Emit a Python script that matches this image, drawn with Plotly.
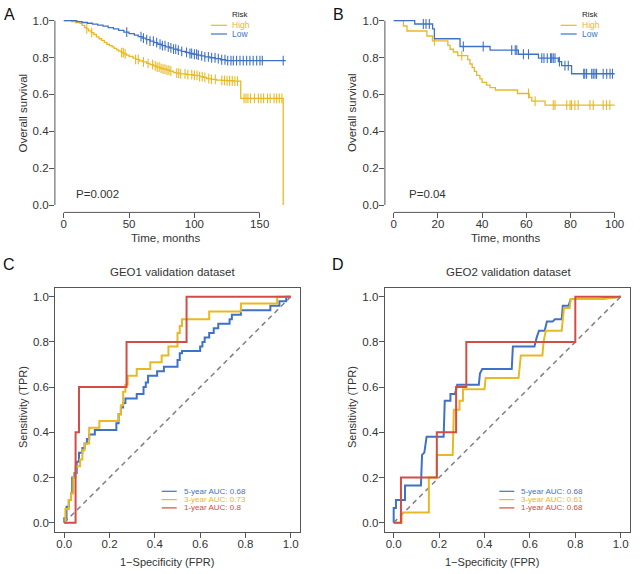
import numpy as np
import plotly.graph_objects as go

W, H = 643, 574
FONT = "Liberation Sans, Arial, sans-serif"
YELLOW = "#E8B923"
BLUE = "#3F72C6"
RED = "#D14D45"
AXIS = "#555555"
TXT = "#333333"

# ---- panel A: Kaplan-Meier, training cohort ----
a_high_t = [6, 9, 12.5, 14, 16, 17.5, 19, 21, 23, 25, 27, 29, 31, 33, 35, 37, 38.5, 40.5, 42, 44,
            46, 48, 50, 53, 55, 58, 60.5, 63.5, 66, 68.6, 71, 73.7, 76, 78.8, 81, 84, 86, 89, 94, 99,
            104, 107, 109.4, 113, 117, 121, 125, 130, 135.5, 168]
a_high_s = [0.995, 0.99, 0.985, 0.975, 0.962, 0.955, 0.945, 0.935, 0.925, 0.912, 0.902, 0.893, 0.882,
            0.872, 0.865, 0.858, 0.85, 0.842, 0.835, 0.827, 0.82, 0.813, 0.806, 0.797, 0.79, 0.782,
            0.776, 0.768, 0.762, 0.755, 0.748, 0.741, 0.737, 0.732, 0.726, 0.719, 0.715, 0.711, 0.707,
            0.703, 0.697, 0.692, 0.686, 0.682, 0.678, 0.676, 0.674, 0.672, 0.579, 0.0]
a_high_cens = [17.6, 21.4, 44.3, 45.6, 47, 55, 57, 61, 64.5, 68, 70, 71.5, 73, 74.5, 76, 77.5, 79,
               80.5, 82, 86.5, 88, 89.5, 92.8, 95, 98, 100, 102, 104, 106, 108, 111, 113, 116, 121,
               123, 125, 127, 129, 131, 133, 138, 139.5, 141, 143, 146, 149, 151, 153, 156, 158, 161,
               163, 165, 167]
a_low_t = [10, 14, 18, 22, 26, 30, 34, 38, 42, 46, 50, 54, 57, 60, 63, 66, 69, 72, 75, 78, 81, 84,
           87, 90, 93, 96, 99, 102, 105, 108, 112, 116, 120, 124]
a_low_s = [0.995, 0.99, 0.986, 0.981, 0.976, 0.97, 0.962, 0.955, 0.947, 0.938, 0.93, 0.922, 0.913,
           0.905, 0.897, 0.889, 0.881, 0.872, 0.865, 0.858, 0.852, 0.846, 0.84, 0.834, 0.828, 0.822,
           0.818, 0.813, 0.809, 0.804, 0.799, 0.794, 0.788, 0.783]
a_low_cens = [48.2, 59.1, 61, 63.5, 66, 68.6, 71.1, 73.7, 75.5, 77.5, 80, 82, 84, 85.7, 87.7, 90.3,
              94, 96.6, 97.9, 100, 101.7, 103, 105.6, 108, 110.7, 113.2, 115.8, 118.3, 120.9, 123.4,
              125.5, 128, 129.8, 132.3, 134.9, 137.4, 140, 142.5, 145, 147.7, 150.2, 152, 168]
a_high_end, a_low_end = 168, 170

# ---- panel B: Kaplan-Meier, validation cohort ----
b_high_t = [4.4, 6.0, 15.0, 17.5, 24.5, 25.5, 27.0, 29.0, 33.5, 34.5, 35.5, 36.5, 37.5, 39.0, 40.0,
            42.0, 43.6, 46.0, 56.0, 61.3, 62.5, 68.5]
b_high_s = [0.971, 0.944, 0.917, 0.890, 0.866, 0.845, 0.830, 0.810, 0.789, 0.765, 0.745, 0.725, 0.703,
            0.684, 0.665, 0.650, 0.637, 0.624, 0.605, 0.584, 0.564, 0.542]
b_high_cens = [18.4, 30.8, 61, 64, 72.2, 73, 78.3, 79.8, 80.5, 82, 83.5, 88.8, 90.3, 94.8, 96.3, 97.8]
b_low_t = [9.5, 17.6, 18.4, 30.0, 43.6, 56.4, 65.5, 74.5, 76.0, 80.5]
b_low_s = [0.982, 0.955, 0.902, 0.860, 0.840, 0.818, 0.797, 0.778, 0.756, 0.712]
b_low_cens = [13.4, 14.6, 16.1, 31.5, 40.5, 53.4, 55, 55.7, 58.7, 61, 67, 68, 69.5, 71, 71.5, 72.2,
              73, 75, 77.5, 79, 86, 86.5, 87.3, 89.6, 90.3, 91.1, 91.8, 94.8, 96.4, 97.9, 99]
b_end = 100

# ---- panel C: ROC GEO1 ----
c5_fpr = [0, 0, 0.01, 0.01, 0.02, 0.02, 0.03, 0.03, 0.035, 0.035, 0.045, 0.045, 0.055, 0.055, 0.065,
          0.065, 0.08, 0.08, 0.09, 0.09, 0.1, 0.1, 0.11, 0.11, 0.135, 0.135, 0.23, 0.23, 0.24, 0.24,
          0.25, 0.25, 0.26, 0.26, 0.27, 0.27, 0.28, 0.28, 0.32, 0.32, 0.35, 0.35, 0.36, 0.36, 0.37,
          0.37, 0.38, 0.38, 0.41, 0.41, 0.44, 0.44, 0.5, 0.5, 0.51, 0.51, 0.52, 0.52, 0.54, 0.54, 0.6,
          0.6, 0.61, 0.61, 0.62, 0.62, 0.64, 0.64, 0.66, 0.66, 0.68, 0.68, 0.7, 0.7, 0.73, 0.73, 0.74,
          0.74, 0.75, 0.75, 0.78, 0.78, 0.91, 0.91, 0.95, 0.95, 0.98, 0.98, 1]
c5_tpr = [0, 0.02, 0.02, 0.07, 0.07, 0.1, 0.1, 0.13, 0.13, 0.2, 0.2, 0.22, 0.22, 0.27, 0.27, 0.31,
          0.31, 0.33, 0.33, 0.35, 0.35, 0.37, 0.37, 0.39, 0.39, 0.41, 0.41, 0.44, 0.44, 0.48, 0.48,
          0.51, 0.51, 0.53, 0.53, 0.55, 0.55, 0.55, 0.55, 0.57, 0.57, 0.6, 0.6, 0.62, 0.62, 0.65, 0.65,
          0.65, 0.65, 0.67, 0.67, 0.69, 0.69, 0.72, 0.72, 0.75, 0.75, 0.76, 0.76, 0.76, 0.76, 0.78,
          0.78, 0.8, 0.8, 0.82, 0.82, 0.84, 0.84, 0.86, 0.86, 0.88, 0.88, 0.88, 0.88, 0.9, 0.9, 0.92,
          0.92, 0.92, 0.92, 0.94, 0.94, 0.96, 0.96, 0.98, 0.98, 1, 1]
c3_fpr = [0, 0.005, 0.005, 0.02, 0.02, 0.03, 0.03, 0.04, 0.04, 0.05, 0.05, 0.07, 0.07, 0.08, 0.08,
          0.09, 0.09, 0.11, 0.11, 0.155, 0.155, 0.24, 0.24, 0.25, 0.25, 0.26, 0.26, 0.27, 0.27, 0.28,
          0.28, 0.32, 0.32, 0.38, 0.38, 0.43, 0.43, 0.46, 0.46, 0.5, 0.5, 0.51, 0.51, 0.52, 0.52, 0.64,
          0.64, 0.78, 0.78, 0.94, 0.94, 1]
c3_tpr = [0, 0, 0.06, 0.06, 0.1, 0.1, 0.13, 0.13, 0.2, 0.2, 0.25, 0.25, 0.28, 0.28, 0.32, 0.32, 0.35,
          0.35, 0.42, 0.42, 0.45, 0.45, 0.48, 0.48, 0.52, 0.52, 0.58, 0.58, 0.61, 0.61, 0.65, 0.65,
          0.68, 0.68, 0.71, 0.71, 0.74, 0.74, 0.78, 0.78, 0.84, 0.84, 0.87, 0.87, 0.9, 0.9, 0.935,
          0.935, 0.97, 0.97, 1, 1]
c1_fpr = [0, 0.05, 0.05, 0.065, 0.065, 0.275, 0.275, 0.54, 0.54, 1]
c1_tpr = [0, 0, 0.4, 0.4, 0.6, 0.6, 0.8, 0.8, 1, 1]

# ---- panel D: ROC GEO2 ----
d5_fpr = [0, 0, 0.01, 0.01, 0.05, 0.05, 0.12, 0.125, 0.135, 0.145, 0.22, 0.225, 0.25, 0.25, 0.27,
          0.275, 0.28, 0.375, 0.38, 0.39, 0.52, 0.525, 0.62, 0.63, 0.64, 0.665, 0.675, 0.7, 0.71, 0.74,
          0.745, 0.77, 0.78, 0.9, 1]
d5_tpr = [0, 0.065, 0.065, 0.1, 0.1, 0.165, 0.165, 0.3, 0.31, 0.38, 0.38, 0.54, 0.54, 0.57, 0.57,
          0.6, 0.61, 0.61, 0.66, 0.68, 0.68, 0.78, 0.78, 0.82, 0.85, 0.85, 0.89, 0.89, 0.9, 0.9, 0.96,
          0.96, 0.99, 0.99, 1]
d3_fpr = [0, 0.035, 0.035, 0.155, 0.155, 0.19, 0.19, 0.26, 0.265, 0.29, 0.29, 0.305, 0.305, 0.4,
          0.405, 0.55, 0.56, 0.655, 0.66, 0.67, 0.74, 0.75, 0.775, 0.78, 0.92, 1]
d3_tpr = [0, 0, 0.045, 0.045, 0.2, 0.2, 0.3, 0.3, 0.5, 0.5, 0.54, 0.54, 0.59, 0.59, 0.64, 0.64, 0.74,
          0.74, 0.8, 0.85, 0.85, 0.95, 0.95, 0.99, 0.99, 1]
d1_fpr = [0, 0.032, 0.032, 0.19, 0.19, 0.275, 0.275, 0.32, 0.32, 0.8, 0.8, 1]
d1_tpr = [0, 0, 0.2, 0.2, 0.4, 0.4, 0.6, 0.6, 0.8, 0.8, 1, 1]

labels_c = ["5-year AUC: 0.68", "3-year AUC: 0.73", "1-year AUC: 0.8"]
labels_d = ["5-year AUC: 0.68", "3-year AUC: 0.61", "1-year AUC: 0.68"]


def px(x, y):
    return x / W, 1 - y / H


def surv_at(times, surv, t):
    idx = np.searchsorted(np.array(times), np.array(t), side="right")
    return np.concatenate([[1.0], surv])[idx]


fig = go.Figure()


def km(ax, times, surv, end, cens, color):
    xs = [0] + list(times) + ([end] if end > times[-1] else [])
    ys = [1] + list(surv) + ([surv[-1]] if end > times[-1] else [])
    fig.add_trace(go.Scatter(x=xs, y=ys, mode="lines", line=dict(color=color, width=1.3, shape="hv"),
                             xaxis="x" + ax, yaxis="y" + ax, hoverinfo="skip"))
    fig.add_trace(go.Scatter(x=cens, y=surv_at(times, surv, cens), mode="markers",
                             marker=dict(symbol="line-ns", size=7, line=dict(color=color, width=1.1)),
                             xaxis="x" + ax, yaxis="y" + ax, hoverinfo="skip"))


def roc(ax, fpr, tpr, color):
    fig.add_trace(go.Scatter(x=fpr, y=tpr, mode="lines", line=dict(color=color, width=2),
                             xaxis="x" + ax, yaxis="y" + ax, hoverinfo="skip"))


km("", a_high_t, a_high_s, a_high_end, a_high_cens, YELLOW)
km("", a_low_t, a_low_s, a_low_end, a_low_cens, BLUE)
km("2", b_high_t, b_high_s, b_end, b_high_cens, YELLOW)
km("2", b_low_t, b_low_s, b_end, b_low_cens, BLUE)

for ax, sets in [("3", [(c5_fpr, c5_tpr, BLUE), (c3_fpr, c3_tpr, YELLOW), (c1_fpr, c1_tpr, RED)]),
                 ("4", [(d5_fpr, d5_tpr, BLUE), (d3_fpr, d3_tpr, YELLOW), (d1_fpr, d1_tpr, RED)])]:
    fig.add_trace(go.Scatter(x=[0, 1], y=[0, 1], mode="lines",
                             line=dict(color="#7f7f7f", width=1.5, dash="5px,4px"),
                             xaxis="x" + ax, yaxis="y" + ax, hoverinfo="skip"))
    for f, t, c in sets:
        roc(ax, f, t, c)

tickfont = dict(family=FONT, size=11.5, color=TXT)


def axis(dom, rng, tickvals, fmt, box, standoff):
    return dict(domain=dom, range=rng, tickvals=tickvals, tickformat=fmt, ticks="outside", ticklen=5,
                tickwidth=1, tickcolor=AXIS, tickfont=tickfont, showgrid=False, zeroline=False,
                showline=box, mirror=box, linecolor=AXIS, linewidth=1, automargin=False,
                fixedrange=True, ticklabelstandoff=standoff)


def xdom(l, r):
    return [l / W, r / W]


def ydom(top, bottom):
    return [1 - bottom / H, 1 - top / H]


YT = [0, 0.2, 0.4, 0.6, 0.8, 1.0]
fig.update_layout(
    xaxis=axis(xdom(54.9, 294.7), [-6.8, 176.8], [0, 50, 100, 150], "d", False, -4),
    yaxis=axis(ydom(13.3, 212.4), [-0.04, 1.04], YT, ".1f", False, -2),
    xaxis2=axis(xdom(384.9, 623.5), [-4, 104], [0, 20, 40, 60, 80, 100], "d", False, -4),
    yaxis2=axis(ydom(13.3, 212.4), [-0.04, 1.04], YT, ".1f", False, -2),
    xaxis3=axis(xdom(55.2, 299.8), [-0.04, 1.04], YT, ".1f", True, -4),
    yaxis3=axis(ydom(287.7, 531.7), [-0.04, 1.04], YT, ".1f", True, -2),
    xaxis4=axis(xdom(384.6, 629.8), [-0.04, 1.04], YT, ".1f", True, -4),
    yaxis4=axis(ydom(287.7, 531.7), [-0.04, 1.04], YT, ".1f", True, -2),
)
for k in ["yaxis2", "yaxis3", "yaxis4"]:
    fig.layout[k].anchor = "x" + k[-1]
for k in ["xaxis2", "xaxis3", "xaxis4"]:
    fig.layout[k].anchor = "y" + k[-1]

# KM axis lines span only the tick range, as in base R
shapes = []
for ax, xmax in [("", 150), ("2", 100)]:
    shapes.append(dict(type="line", xref="x" + ax, yref="y" + ax + " domain", x0=0, x1=xmax, y0=0, y1=0,
                       line=dict(color=AXIS, width=1)))
    shapes.append(dict(type="line", xref="x" + ax + " domain", yref="y" + ax, x0=0, x1=0, y0=0, y1=1,
                       line=dict(color=AXIS, width=1)))

annotations = []


def text(x, y, s, size=11.5, color=TXT, xanchor="center", angle=0):
    px_x, px_y = px(x, y)
    annotations.append(dict(x=px_x, y=px_y, xref="paper", yref="paper", text=s, showarrow=False,
                            xanchor=xanchor, yanchor="middle", textangle=angle,
                            font=dict(family=FONT, size=size, color=color)))


def legend_line(x0, x1, y, color):
    a, b = px(x0, y)
    c, _ = px(x1, y)
    shapes.append(dict(type="line", xref="paper", yref="paper", x0=a, x1=c, y0=b, y1=b,
                       line=dict(color=color, width=1.2)))


# panel letters
text(9, 14, "A", size=16, color="#111")
text(338, 14, "B", size=16, color="#111")
text(9, 264, "C", size=16, color="#111")
text(338, 264, "D", size=16, color="#111")

# KM titles and annotations
for xc, xt, pval, lx in [(22.5, 165, "P=0.002", 97), (352, 505, "P=0.04", 427.7)]:
    text(xc, 113, "Overall survival", angle=-90)
    text(xt, 238, "Time, months")
    text(lx, 194, pval)

# KM legends
for lx0, tx in [(211, 230), (560.7, 580)]:
    text(tx, 14, "Risk", size=8, color="#222", xanchor="left")
    legend_line(lx0, lx0 + 16, 25.3, YELLOW)
    text(tx, 25.3, "High", size=8.5, color=YELLOW, xanchor="left")
    legend_line(lx0, lx0 + 16, 34, BLUE)
    text(tx, 34, "Low", size=8.5, color=BLUE, xanchor="left")

# ROC titles
text(172.7, 271.7, "GEO1 validation dataset", size=11.5)
text(508.3, 271.7, "GEO2 validation dataset", size=11.5)
for xc, xt in [(23, 167), (352, 491.7)]:
    text(xc, 407, "Sensitivity (TPR)", size=11, angle=-90)
    text(xt, 562, "1\u2212Specificity (FPR)", size=11)

# ROC legends
for lx0, tx, labs in [(161.7, 181.7, labels_c), (499.3, 519, labels_d)]:
    for yy, lab, col in zip([491.3, 499.6, 507.9], labs, [BLUE, YELLOW, RED]):
        legend_line(lx0, lx0 + 15, yy, col)
        text(tx, yy, lab, size=8, color=col, xanchor="left")

fig.update_layout(
    width=W, height=H, margin=dict(l=0, r=0, t=0, b=0), template="none",
    paper_bgcolor="white", plot_bgcolor="white", showlegend=False,
    shapes=shapes, annotations=annotations, font=dict(family=FONT),
)

# the page's default body margin would push the figure 8px down and right
fig.write_html("out.html", config={"displayModeBar": False},
               post_script="document.body.style.margin='0';")
